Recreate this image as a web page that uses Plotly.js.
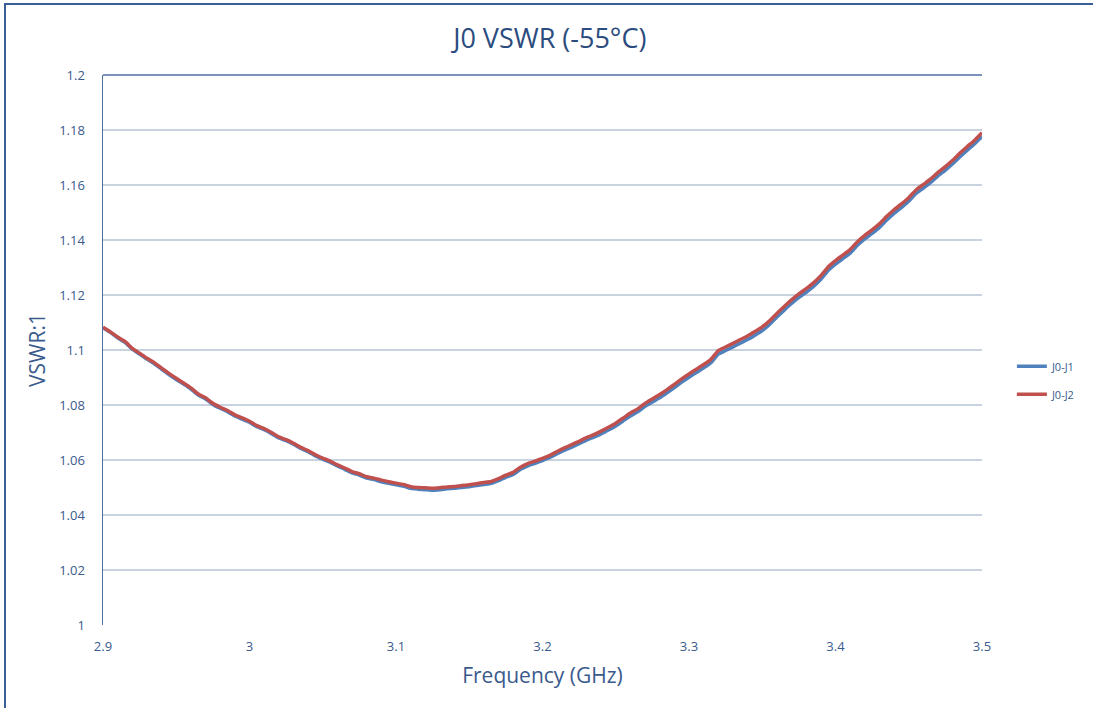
<!DOCTYPE html>
<html>
<head>
<meta charset="utf-8">
<script src="https://cdn.plot.ly/plotly-3.0.1.min.js"></script>
<style>
html,body{margin:0;padding:0;background:#fff;overflow:hidden;}
#wrap{position:relative;width:1093px;height:708px;}
#chart{position:absolute;left:0;top:0;width:1093px;height:708px;}
#frame{position:absolute;left:4px;top:3px;width:1200px;height:800px;border-top:2px solid #3A5F96;border-left:2px solid #3A5F96;pointer-events:none;}
</style>
</head>
<body>
<div id="wrap"><div id="chart"></div><div id="frame"></div></div>
<script>
const freq = [
2.900,2.905,2.910,2.915,2.920,2.925,2.930,2.935,2.940,2.945,
2.950,2.955,2.960,2.965,2.970,2.975,2.980,2.985,2.990,2.995,
3.000,3.005,3.010,3.015,3.020,3.025,3.030,3.035,3.040,3.045,
3.050,3.055,3.060,3.065,3.070,3.075,3.080,3.085,3.090,3.095,
3.100,3.105,3.110,3.115,3.120,3.125,3.130,3.135,3.140,3.145,
3.150,3.155,3.160,3.165,3.170,3.175,3.180,3.185,3.190,3.195,
3.200,3.205,3.210,3.215,3.220,3.225,3.230,3.235,3.240,3.245,
3.250,3.255,3.260,3.265,3.270,3.275,3.280,3.285,3.290,3.295,
3.300,3.305,3.310,3.315,3.320,3.325,3.330,3.335,3.340,3.345,
3.350,3.355,3.360,3.365,3.370,3.375,3.380,3.385,3.390,3.395,
3.400,3.405,3.410,3.415,3.420,3.425,3.430,3.435,3.440,3.445,
3.450,3.455,3.460,3.465,3.470,3.475,3.480,3.485,3.490,3.495,
3.500];

const j0j2 = [
1.1083,1.1066,1.1047,1.1031,1.1006,1.0988,1.0970,1.0954,1.0934,1.0915,
1.0897,1.0880,1.0862,1.0840,1.0826,1.0806,1.0792,1.0780,1.0764,1.0753,
1.0741,1.0725,1.0714,1.0700,1.0684,1.0674,1.0661,1.0646,1.0634,1.0619,
1.0607,1.0596,1.0582,1.0571,1.0558,1.0550,1.0539,1.0534,1.0527,1.0521,
1.0516,1.0511,1.0503,1.0500,1.0499,1.0497,1.0499,1.0502,1.0504,1.0507,
1.0510,1.0514,1.0518,1.0522,1.0532,1.0545,1.0555,1.0574,1.0587,1.0596,
1.0606,1.0617,1.0631,1.0644,1.0656,1.0668,1.0681,1.0692,1.0705,1.0719,
1.0734,1.0752,1.0771,1.0786,1.0806,1.0822,1.0838,1.0856,1.0875,1.0895,
1.0913,1.0930,1.0947,1.0966,1.0998,1.1011,1.1024,1.1038,1.1051,1.1067,
1.1084,1.1106,1.1133,1.1158,1.1182,1.1204,1.1223,1.1244,1.1270,1.1302,
1.1325,1.1345,1.1365,1.1394,1.1417,1.1437,1.1459,1.1486,1.1510,1.1531,
1.1554,1.1582,1.1602,1.1622,1.1646,1.1667,1.1690,1.1716,1.1740,1.1763,
1.1790];

const j0j1 = [
1.1081,1.1064,1.1044,1.1028,1.1003,1.0985,1.0967,1.0950,1.0930,1.0911,
1.0893,1.0876,1.0858,1.0836,1.0822,1.0802,1.0788,1.0776,1.0760,1.0749,
1.0737,1.0721,1.0710,1.0696,1.0680,1.0670,1.0657,1.0642,1.0630,1.0615,
1.0603,1.0592,1.0578,1.0566,1.0553,1.0545,1.0534,1.0529,1.0521,1.0515,
1.0510,1.0505,1.0497,1.0494,1.0492,1.0490,1.0492,1.0495,1.0497,1.0500,
1.0503,1.0507,1.0511,1.0515,1.0525,1.0537,1.0547,1.0566,1.0579,1.0588,
1.0598,1.0609,1.0623,1.0636,1.0647,1.0659,1.0672,1.0683,1.0695,1.0709,
1.0724,1.0742,1.0760,1.0775,1.0795,1.0811,1.0826,1.0844,1.0863,1.0883,
1.0901,1.0918,1.0935,1.0954,1.0985,1.0998,1.1011,1.1025,1.1038,1.1054,
1.1071,1.1093,1.1120,1.1145,1.1169,1.1191,1.1210,1.1231,1.1257,1.1289,
1.1312,1.1332,1.1352,1.1381,1.1404,1.1424,1.1446,1.1473,1.1497,1.1518,
1.1541,1.1569,1.1589,1.1609,1.1633,1.1654,1.1677,1.1703,1.1727,1.1750,
1.1776];

const xTicks = [2.9, 3, 3.1, 3.2, 3.3, 3.4, 3.5];
const yTicks = [1, 1.02, 1.04, 1.06, 1.08, 1.1, 1.12, 1.14, 1.16, 1.18, 1.2];

const fontFam = 'Open Sans, Noto Sans, DejaVu Sans, sans-serif';
const txt = '#3A5A8C';

const traces = [
  {x: freq, y: j0j1, name: 'J0-J1', type: 'scatter', mode: 'lines', legendgroup: 'a',
   line: {color: '#4F81BD', width: 3.5, shape: 'spline', smoothing: 0.5}},
  {x: freq, y: j0j2, name: 'J0-J2', type: 'scatter', mode: 'lines', legendgroup: 'b',
   line: {color: '#C0504D', width: 3.5, shape: 'spline', smoothing: 0.5}}
];

const layout = {
  width: 1093, height: 708,
  margin: {l: 103, r: 111, t: 75, b: 83, pad: 0},
  paper_bgcolor: '#ffffff', plot_bgcolor: '#ffffff',
  font: {family: fontFam, color: txt},
  title: {text: 'J0 VSWR (-55°C)', x: 0.503, xanchor: 'center', y: 0.945, yanchor: 'middle',
          font: {size: 27, color: '#2B4C7E', family: fontFam}},
  xaxis: {
    range: [2.9, 3.5], tickvals: xTicks, ticktext: xTicks.map(String),
    showgrid: false, zeroline: false, showline: false, ticks: '',
    tickfont: {size: 13, color: txt}, ticklabelstandoff: 12,
    title: {text: 'Frequency (GHz)', font: {size: 21, color: txt}, standoff: 14}
  },
  yaxis: {
    range: [1, 1.2], tickvals: yTicks, ticktext: yTicks.map(String),
    showgrid: true, gridcolor: '#C9D2DF', gridwidth: 1.2, zeroline: false,
    showline: true, linecolor: '#4F6FA0', linewidth: 1.5, ticks: '',
    tickfont: {size: 13, color: txt}, ticklabelstandoff: 14,
    title: {text: 'VSWR:1', font: {size: 21, color: txt}, standoff: 8}
  },
  showlegend: true,
  legend: {x: 1.034, xanchor: 'left', y: 0.445, yanchor: 'middle', tracegroupgap: 9,
           font: {size: 11, color: txt}, bgcolor: 'rgba(0,0,0,0)'},
  shapes: [
    {type: 'line', xref: 'paper', yref: 'paper', x0: 0, x1: 1, y0: 1, y1: 1,
     line: {color: '#4F6FA0', width: 1.5}, layer: 'below'}
  ]
};

Plotly.newPlot('chart', traces, layout, {displayModeBar: false, staticPlot: true});
</script>
</body>
</html>
